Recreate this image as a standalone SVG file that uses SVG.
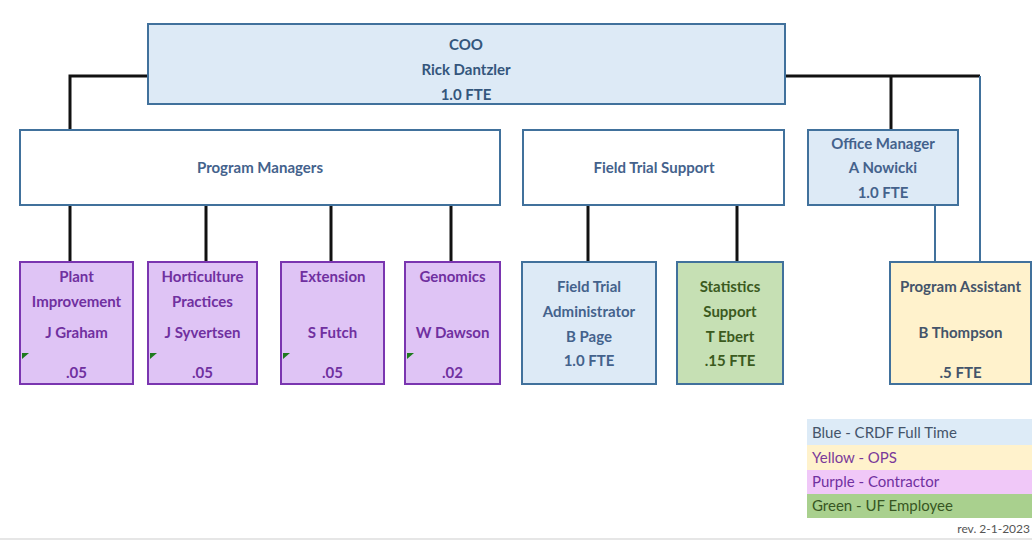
<svg xmlns="http://www.w3.org/2000/svg" width="1032" height="540" viewBox="0 0 1032 540">
<style>
text{font-family:Lato,"Liberation Sans",sans-serif;font-weight:bold;font-size:15px;text-anchor:middle}
.blue{fill:#ddeaf6;stroke:#41719c;stroke-width:2}
.white{fill:#ffffff;stroke:#41719c;stroke-width:2}
.purple{fill:#dfc4f5;stroke:#7a35b0;stroke-width:2}
.green{fill:#c6e0b4;stroke:#41719c;stroke-width:2}
.yellow{fill:#fff2cc;stroke:#41719c;stroke-width:2}
.tb{fill:#34567c}
.tw{fill:#44628c}
.tp{fill:#7030a0}
.tg{fill:#3b5a1e}
.ty{fill:#44546a}
.blk{stroke:#111;stroke-width:3;fill:none}
.thin{stroke:#41719c;stroke-width:2;fill:none}
.flag{fill:#1e7a1e}
.leg{font-weight:normal;text-anchor:start;font-size:15px}
</style>
<g id="connectors">
<polyline class="blk" points="148,76 70,76 70,130"/>
<polyline class="blk" points="785,76 980,76"/>
<line class="blk" x1="891" y1="76" x2="891" y2="130"/>
<line class="thin" x1="980" y1="76" x2="980" y2="262"/>
<line class="blk" x1="70" y1="205" x2="70" y2="262"/>
<line class="blk" x1="206" y1="205" x2="206" y2="262"/>
<line class="blk" x1="331" y1="205" x2="331" y2="262"/>
<line class="blk" x1="451" y1="205" x2="451" y2="262"/>
<line class="blk" x1="588" y1="205" x2="588" y2="262"/>
<line class="blk" x1="737" y1="205" x2="737" y2="262"/>
<line class="thin" x1="935" y1="205" x2="935" y2="262"/>
</g>
<g id="coo">
<rect class="blue" x="148" y="24" width="637" height="80"/>
<text class="tb" x="466" y="50">COO</text>
<text class="tb" x="466" y="75">Rick Dantzler</text>
<text class="tb" x="466" y="100">1.0 FTE</text>
</g>
<g id="program-managers">
<rect class="white" x="20" y="130" width="480" height="75"/>
<text class="tw" x="260" y="173">Program Managers</text>
</g>
<g id="field-trial-support">
<rect class="white" x="523" y="130" width="261" height="75"/>
<text class="tw" x="654" y="173">Field Trial Support</text>
</g>
<g id="office-manager">
<rect class="blue" x="808" y="130" width="150" height="75"/>
<text class="tw" x="883" y="149">Office Manager</text>
<text class="tw" x="883" y="173">A Nowicki</text>
<text class="tw" x="883" y="198">1.0 FTE</text>
</g>
<g id="plant-improvement">
<rect class="purple" x="20" y="262" width="113" height="122"/>
<polygon class="flag" points="22,353 29,353 22,359"/>
<text class="tp" x="76.5" y="282">Plant</text>
<text class="tp" x="76.5" y="307">Improvement</text>
<text class="tp" x="76.5" y="338">J Graham</text>
<text class="tp" x="76.5" y="378">.05</text>
</g>
<g id="horticulture">
<rect class="purple" x="148" y="262" width="109" height="122"/>
<polygon class="flag" points="150,353 157,353 150,359"/>
<text class="tp" x="202.5" y="282">Horticulture</text>
<text class="tp" x="202.5" y="307">Practices</text>
<text class="tp" x="202.5" y="338">J Syvertsen</text>
<text class="tp" x="202.5" y="378">.05</text>
</g>
<g id="extension">
<rect class="purple" x="281" y="262" width="103" height="122"/>
<polygon class="flag" points="283,353 290,353 283,359"/>
<text class="tp" x="332.5" y="282">Extension</text>
<text class="tp" x="332.5" y="338">S Futch</text>
<text class="tp" x="332.5" y="378">.05</text>
</g>
<g id="genomics">
<rect class="purple" x="405" y="262" width="95" height="122"/>
<polygon class="flag" points="407,353 414,353 407,359"/>
<text class="tp" x="452.5" y="282">Genomics</text>
<text class="tp" x="452.5" y="338">W Dawson</text>
<text class="tp" x="452.5" y="378">.02</text>
</g>
<g id="field-trial-admin">
<rect class="blue" x="522" y="262" width="134" height="122"/>
<text class="tw" x="589" y="292">Field Trial</text>
<text class="tw" x="589" y="317">Administrator</text>
<text class="tw" x="589" y="342">B Page</text>
<text class="tw" x="589" y="366">1.0 FTE</text>
</g>
<g id="statistics-support">
<rect class="green" x="677" y="262" width="106" height="122"/>
<text class="tg" x="730" y="292">Statistics</text>
<text class="tg" x="730" y="317">Support</text>
<text class="tg" x="730" y="342">T Ebert</text>
<text class="tg" x="730" y="366">.15 FTE</text>
</g>
<g id="program-assistant">
<rect class="yellow" x="890" y="262" width="141" height="122"/>
<text class="ty" x="960.5" y="292">Program Assistant</text>
<text class="ty" x="960.5" y="338">B Thompson</text>
<text class="ty" x="960.5" y="378">.5 FTE</text>
</g>
<g id="legend">
<rect x="807" y="419" width="225" height="26" fill="#ddebf7"/>
<rect x="807" y="445" width="225" height="25" fill="#fff2cc"/>
<rect x="807" y="470" width="225" height="24" fill="#f0c8f8"/>
<rect x="807" y="494" width="225" height="24" fill="#a9d08e"/>
<text class="leg" x="812" y="438" fill="#44546a">Blue - CRDF Full Time</text>
<text class="leg" x="812" y="463" fill="#7a3a9a">Yellow - OPS</text>
<text class="leg" x="812" y="487" fill="#7030a0">Purple - Contractor</text>
<text class="leg" x="812" y="511" fill="#375623">Green - UF Employee</text>
<text x="1030" y="533" style="font-weight:normal;font-size:12px;text-anchor:end;fill:#555">rev. 2-1-2023</text>
</g>
<rect x="0" y="538" width="1032" height="2" fill="#e6e6e6"/>
</svg>
